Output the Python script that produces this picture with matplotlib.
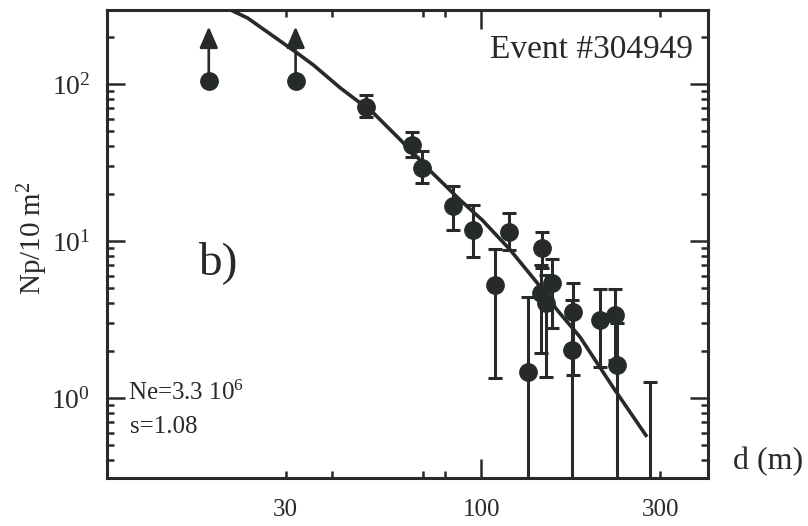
import matplotlib
matplotlib.use("Agg")
import matplotlib.pyplot as plt
import numpy as np
from matplotlib.ticker import FixedLocator, NullFormatter, LogLocator, FixedFormatter

# ---------------- data ----------------
# lower-limit points (arrows)
lim_x = [18.7, 31.9]
lim_y = [104.0, 104.0]
lim_tip = [232.0, 232.0]

# measured densities with asymmetric error bars
pt_x  = [49.3, 65.4, 69.5, 84.1, 95.1, 118.7, 108.9, 145.3, 133.4, 154.5,
         144.5, 148.9, 175.8, 174.7, 207.5, 227.5, 230.3, 281.8]
pt_y  = [71.4, 40.9, 29.2, 16.7, 11.75, 11.4, 5.25, 9.0, 1.46, 5.40,
         4.67, 4.03, 3.53, 2.02, 3.14, 3.38, 1.62, 0.20]
pt_lo = [61.6, 34.3, 23.4, 11.75, 7.9, 8.8, 1.34, 6.7, 0.10, 2.79,
         1.94, 1.36, 1.40, 0.10, 1.57, 1.75, 0.10, 0.10]
pt_hi = [85.0, 49.5, 37.4, 22.4, 16.9, 15.1, 8.9, 11.4, 4.4, 7.7,
         7.0, 6.07, 5.4, 4.2, 4.94, 4.94, 3.0, 1.27]

# fitted lateral distribution
fit_x = [21.4, 23.75, 31.9, 35.6, 42.0, 51.5, 60.8, 74.0, 87.8, 100.5,
         119.4, 141.0, 159.4, 183.5, 224.7, 276.9]
fit_y = [296, 263, 160, 132, 94.3, 65.3, 44.0, 27.1, 18.2, 13.6,
         8.77, 5.40, 3.63, 2.44, 1.17, 0.565]

xtick_major = [100]
xtick_minor = [30, 40, 70, 80, 300]
xtick_labels = {30: "30", 100: "100", 300: "300"}
ytick_major = [1, 10, 100]
ytick_labels = [r"$\mathregular{10^{0}}$", r"$\mathregular{10^{1}}$", r"$\mathregular{10^{2}}$"]

# ---------------- style ----------------
plt.rcParams["font.family"] = ["Liberation Serif", "DejaVu Serif"]
plt.rcParams["mathtext.fontset"] = "custom"
plt.rcParams["mathtext.rm"] = "Liberation Serif"
plt.rcParams["mathtext.it"] = "Liberation Serif:italic"
plt.rcParams["mathtext.bf"] = "Liberation Serif:bold"

ink = "#262a28"

fig = plt.figure(figsize=(8.08, 5.26), dpi=100)
ax = fig.add_axes([107/808, 1-478/526, 601/808, 468/526])
ax.set_xscale("log")
ax.set_yscale("log")
ax.set_xlim(10.0, 403)
ax.set_ylim(0.309, 296)

# fit line
ax.plot(fit_x, fit_y, color=ink, lw=2.6, zorder=2, solid_capstyle="butt")

# data with error bars
y = np.array(pt_y)
yerr = [y - np.array(pt_lo), np.array(pt_hi) - y]
ax.errorbar(pt_x, pt_y, yerr=yerr, fmt="o", color=ink, ms=12.5,
            elinewidth=2.2, capsize=4.8, capthick=2.2, zorder=3)

# lower limits with arrows
ax.plot(lim_x, lim_y, "o", color=ink, ms=12.5, zorder=3)
for xx, yy, tt in zip(lim_x, lim_y, lim_tip):
    ax.annotate("", xy=(xx, tt), xytext=(xx, yy),
                arrowprops=dict(arrowstyle="-|>,head_length=0.46,head_width=0.2",
                                color=ink, lw=1.9, shrinkA=0, shrinkB=0,
                                mutation_scale=28), zorder=3)

# ticks
ax.xaxis.set_major_locator(FixedLocator(xtick_major))
ax.xaxis.set_minor_locator(FixedLocator(xtick_minor))
ax.xaxis.set_major_formatter(FixedFormatter([xtick_labels[v] for v in xtick_major]))
ax.xaxis.set_minor_formatter(FixedFormatter([xtick_labels.get(v, "") for v in xtick_minor]))
ax.yaxis.set_major_locator(FixedLocator(ytick_major))
ax.yaxis.set_major_formatter(FixedFormatter(ytick_labels))
ax.yaxis.set_minor_locator(LogLocator(base=10, subs=np.arange(2, 10)))
ax.yaxis.set_minor_formatter(NullFormatter())

ax.tick_params(which="both", direction="in", top=True, right=True, colors=ink,
               width=1.8)
ax.tick_params(axis="y", which="major", length=13, pad=12, labelsize=20)
ax.tick_params(axis="x", which="major", length=14, pad=15, labelsize=18)
ax.tick_params(which="minor", length=5)
ax.tick_params(axis="x", which="minor", pad=15, labelsize=18)

for s in ax.spines.values():
    s.set_linewidth(2.2)
    s.set_color(ink)

# texts
fig.text(33/808, 1-238/526, r"$\mathregular{Np/10\ m^{2}}$", rotation=90,
         ha="center", va="center", fontsize=21, color=ink)
fig.text(768/808, 1-462/526, "d (m)", ha="center", va="center", fontsize=23, color=ink)
ax.text(0.975, 0.915, "Event #304949", transform=ax.transAxes, ha="right",
        va="center", fontsize=24, color=ink)
fig.text(218/808, 1-263/526, "b)", ha="center", va="center", fontsize=34, color=ink)
fig.text(128/808, 1-400/526, r"Ne=3.3 10$^{\mathregular{6}}$", ha="left",
         va="baseline", fontsize=18, color=ink)
fig.text(130/808, 1-433/526, "s=1.08", ha="left", va="baseline", fontsize=18, color=ink)

fig.savefig("out.png", dpi=100)
